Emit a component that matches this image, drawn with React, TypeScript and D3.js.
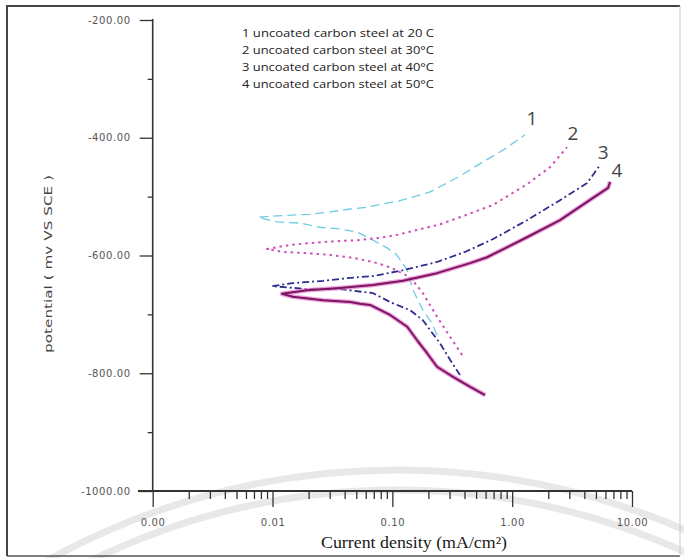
import React, { useRef, useEffect } from 'react'
import * as d3 from 'd3'

// current density (mA/cm2) and potential (mV vs SCE), cathodic end -> Ecorr -> anodic end
const current1 = [0.236, 0.214, 0.18, 0.149, 0.133, 0.109, 0.0904, 0.069, 0.0507, 0.0366, 0.0249, 0.017, 0.0109, 0.00757, 0.0101, 0.0206, 0.0302, 0.0444, 0.0615, 0.0904, 0.116, 0.207, 0.367, 0.571, 0.84, 1.28]
const potential1 = [-735, -715, -693, -659, -625, -599, -587, -574, -560, -555, -552, -545, -543, -535, -533, -530, -526, -521, -518, -511, -507, -492, -465, -441, -421, -395]

const current2 = [0.382, 0.303, 0.236, 0.18, 0.141, 0.0957, 0.069, 0.047, 0.0302, 0.0194, 0.0122, 0.009, 0.014, 0.0264, 0.0507, 0.0788, 0.109, 0.25, 0.367, 0.694, 1.33, 2.07, 2.87]
const potential2 = [-769, -738, -704, -664, -637, -620, -611, -604, -599, -596, -594, -589, -582, -577, -574, -570, -565, -547, -535, -514, -479, -450, -416]

const current3 = [0.367, 0.303, 0.25, 0.207, 0.18, 0.141, 0.0957, 0.069, 0.0366, 0.0194, 0.00991, 0.0148, 0.0264, 0.0444, 0.069, 0.123, 0.236, 0.404, 0.694, 1.33, 2.51, 4.22, 5.42]
const potential3 = [-803, -777, -749, -727, -710, -693, -679, -664, -657, -657, -652, -647, -643, -638, -635, -625, -611, -594, -572, -540, -506, -477, -446]

const current4 = [0.594, 0.446, 0.321, 0.236, 0.195, 0.161, 0.133, 0.0957, 0.0652, 0.0537, 0.0444, 0.0264, 0.0148, 0.012, 0.0194, 0.0366, 0.069, 0.123, 0.236, 0.446, 0.617, 1.33, 2.51, 4.73, 6.32, 6.56]
const potential4 = [-837, -823, -806, -789, -766, -744, -721, -701, -684, -682, -679, -676, -670, -665, -659, -655, -650, -643, -630, -613, -603, -569, -540, -502, -485, -475]

const legendLabels = [
  '1 uncoated carbon steel at 20 C',
  '2 uncoated carbon steel at 30°C',
  '3 uncoated carbon steel at 40°C',
  '4 uncoated carbon steel at 50°C',
]
const curveNames = ['1', '2', '3', '4']

const yMajor = [-1000, -800, -600, -400, -200]
const yMinor = [-900, -700, -500, -300]
const xMajor = [0.001, 0.01, 0.1, 1, 10]

export default function App() {
  const svgRef = useRef<SVGSVGElement>(null)

  useEffect(() => {
    document.body.style.margin = '0'
    document.body.style.overflow = 'hidden'

    const w = 684
    const h = 558
    const svg = d3.select(svgRef.current)
    svg.selectAll('*').remove()
    svg.attr('width', w).attr('height', h).style('background', '#fff').style('display', 'block')

    const x = d3.scaleLog().domain([0.001, 10]).range([152.7, 632])
    const y = d3.scaleLinear().domain([-1000, -200]).range([491, 20])

    // faint watermark arcs
    const wm = svg.append('g')
    ;[720, 700].forEach(r => {
      wm.append('circle')
        .attr('cx', 397).attr('cy', 1190).attr('r', r)
        .attr('fill', 'none').attr('stroke', '#e8e8e8').attr('stroke-width', 7)
    })

    // frame
    const frame = svg.append('g').attr('fill', 'none')
    frame.append('path').attr('d', 'M7,556 L7,6 L680,6').attr('stroke', '#444').attr('stroke-width', 2)
    frame.append('path').attr('d', 'M7,556 L680,556').attr('stroke', '#555').attr('stroke-width', 1.5)
    frame.append('path').attr('d', 'M680,6 L680,556').attr('stroke', '#c8c8c8').attr('stroke-width', 1)

    // axes
    const minorX: number[] = []
    ;[0.001, 0.01, 0.1, 1].forEach(d => {
      for (let k = 2; k <= 9; k++) minorX.push(d * k)
    })

    const styleAxis = (g: any) => {
      g.select('.domain').remove()
      g.selectAll('line').attr('stroke', '#333').attr('stroke-width', 1.3)
      g.selectAll('text')
        .attr('fill', '#555')
        .style('font-family', 'DejaVu Sans, Verdana, sans-serif')
        .style('font-size', '10px')
        .style('letter-spacing', '0.6px')
    }

    svg.append('g').attr('transform', 'translate(152.7,0)')
      .call(d3.axisLeft(y).tickValues(yMajor).tickSize(13).tickPadding(9).tickFormat(d => (+d).toFixed(2)))
      .call(styleAxis)
    svg.append('g').attr('transform', 'translate(152.7,0)')
      .call(d3.axisLeft(y).tickValues(yMinor).tickSize(5).tickFormat(() => ''))
      .call(styleAxis)
    svg.append('g').attr('transform', 'translate(0,491)')
      .call(d3.axisBottom(x).tickValues(xMajor).tickSize(16).tickPadding(12).tickFormat(d => (+d).toFixed(2)))
      .call(styleAxis)
    svg.append('g').attr('transform', 'translate(0,491)')
      .call(d3.axisBottom(x).tickValues(minorX).tickSize(8).tickFormat(() => ''))
      .call(styleAxis)

    svg.append('line').attr('x1', 152.7).attr('x2', 152.7).attr('y1', 19).attr('y2', 491)
      .attr('stroke', '#333').attr('stroke-width', 1.6)
    svg.append('line').attr('x1', 138).attr('x2', 632).attr('y1', 491).attr('y2', 491)
      .attr('stroke', '#333').attr('stroke-width', 2)

    // axis titles
    svg.append('text')
      .attr('transform', 'translate(52,264) rotate(-90)')
      .attr('text-anchor', 'middle')
      .attr('textLength', 178).attr('lengthAdjust', 'spacingAndGlyphs')
      .style('font-family', 'DejaVu Sans, Verdana, sans-serif').style('font-size', '11px')
      .attr('fill', '#444')
      .text('potential ( mv VS SCE )')
    svg.append('text')
      .attr('x', 414).attr('y', 548)
      .attr('text-anchor', 'middle')
      .attr('textLength', 186).attr('lengthAdjust', 'spacingAndGlyphs')
      .style('font-family', 'Liberation Serif, Times New Roman, serif').style('font-size', '16px')
      .attr('fill', '#1a1a1a')
      .text('Current density (mA/cm²)')

    // legend text
    svg.append('g').selectAll('text').data(legendLabels).join('text')
      .attr('x', 242).attr('y', (d, i) => 37 + i * 17)
      .attr('textLength', 192).attr('lengthAdjust', 'spacingAndGlyphs')
      .style('font-family', 'Open Sans, sans-serif').style('font-size', '11px')
      .attr('fill', '#222')
      .text(d => d)

    // curves
    const series = [
      { cur: current1, pot: potential1, color: '#6fcbe4', width: 1.3, dash: '9,5', halo: null, off: [7, -17] },
      { cur: current2, pot: potential2, color: '#cf4fb4', width: 2, dash: '2.5,4', halo: null, off: [6, -14] },
      { cur: current3, pot: potential3, color: '#2e2e8e', width: 1.8, dash: '7,3,2,3', halo: null, off: [3, -13] },
      { cur: current4, pot: potential4, color: '#7d145f', width: 2, dash: null, halo: '#e27bd0', off: [7, -12] },
    ]

    const line = d3.line<[number, number]>()
      .x(d => x(d[0]))
      .y(d => y(d[1]))

    series.forEach((s, i) => {
      const pts = s.cur.map((c, k) => [c, s.pot[k]] as [number, number])
      if (s.halo) {
        svg.append('path').attr('d', line(pts))
          .attr('fill', 'none').attr('stroke', s.halo).attr('stroke-width', 4.5)
          .attr('stroke-opacity', 0.7).attr('stroke-linejoin', 'round')
      }
      svg.append('path').attr('d', line(pts))
        .attr('fill', 'none').attr('stroke', s.color).attr('stroke-width', s.width)
        .attr('stroke-dasharray', s.dash).attr('stroke-linejoin', 'round')

      const end = pts[pts.length - 1]
      svg.append('text')
        .attr('x', x(end[0]) + s.off[0]).attr('y', y(end[1]) + s.off[1])
        .attr('text-anchor', 'middle').attr('dominant-baseline', 'central')
        .style('font-family', 'Open Sans, sans-serif').style('font-size', '19px')
        .attr('fill', '#444')
        .text(curveNames[i])
    })
  }, [])

  return (
    <div style={{ position: 'absolute', left: 0, top: 0 }}>
      <svg ref={svgRef}></svg>
    </div>
  )
}
